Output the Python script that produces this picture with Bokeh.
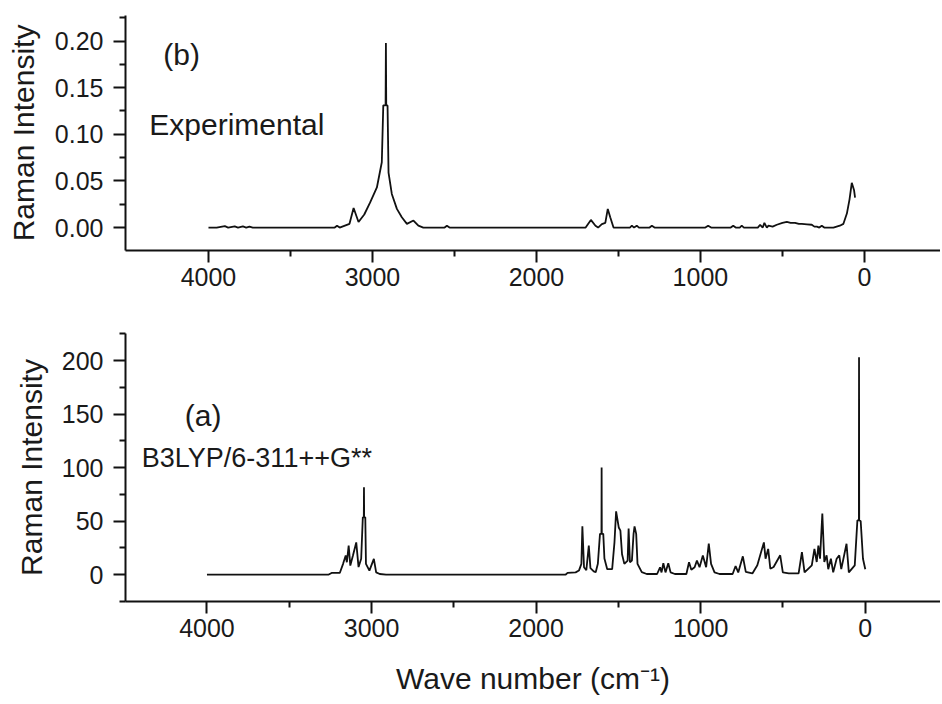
from bokeh.plotting import figure
from bokeh.layouts import column
from bokeh.models import FixedTicker, NumeralTickFormatter, Label, Range1d
from bokeh.embed import file_html
from bokeh.resources import INLINE

# ---- Experimental Raman spectrum (panel b) ----
exp_wavenumber = [4000, 3950, 3900, 3880, 3840, 3820, 3790, 3770, 3750, 3730,
                  3230, 3216, 3200, 3140, 3115, 3085, 3050, 3014, 2973, 2943,
                  2934, 2920, 2918, 2916, 2908, 2902, 2882, 2851, 2821, 2790,
                  2750, 2720, 2690, 2560, 2546, 2530, 1700, 1668, 1640, 1624,
                  1601, 1580, 1565, 1550, 1530, 1430, 1418, 1405, 1388, 1375,
                  1310, 1296, 1280, 970, 953, 935, 815, 800, 785, 760,
                  748, 735, 650, 636, 620, 610, 595, 585, 560, 534,
                  500, 473, 450, 423, 400, 382, 350, 321, 305, 290,
                  275, 260, 245, 189, 150, 128, 107, 91, 77, 70,
                  63, 57]
exp_intensity = [0, 0, 0.0015, 0, 0.0012, 0, 0.0012, 0, 0.001, 0,
                 0, 0.002, 0, 0.004, 0.021, 0.006, 0.014, 0.027, 0.043, 0.070,
                 0.131, 0.131, 0.198, 0.131, 0.131, 0.059, 0.036, 0.020, 0.011, 0.004,
                 0.0075, 0.002, 0, 0, 0.002, 0, 0, 0.0082, 0.002, 0,
                 0.0037, 0.005, 0.020, 0.011, 0, 0, 0.002, 0, 0.002, 0,
                 0, 0.002, 0, 0, 0.002, 0, 0, 0.002, 0, 0,
                 0.002, 0, 0, 0.003, 0, 0.005, 0, 0.002, 0.001, 0.003,
                 0.005, 0.006, 0.005, 0.005, 0.004, 0.004, 0.0035, 0.003, 0.001, 0.001,
                 0, 0.002, 0, 0, 0.002, 0.004, 0.015, 0.030, 0.048, 0.044,
                 0.040, 0.032]

# ---- Calculated Raman spectrum, B3LYP/6-311++G** (panel a) ----
calc_wavenumber = [4000, 3260, 3243, 3193, 3173, 3157, 3150, 3139, 3129, 3113,
                   3093, 3079, 3063, 3053, 3047, 3046, 3045, 3038, 3034, 3013,
                   2986, 2972, 2950, 2912, 1820, 1809, 1760, 1740, 1725, 1719,
                   1709, 1695, 1680, 1670, 1650, 1638, 1625, 1612, 1603, 1602,
                   1601, 1592, 1585, 1568, 1538, 1524, 1514, 1498, 1488, 1478,
                   1464, 1444, 1438, 1430, 1418, 1408, 1402, 1392, 1384, 1358,
                   1328, 1265, 1247, 1238, 1227, 1214, 1197, 1183, 1157, 1087,
                   1071, 1057, 1037, 1023, 1007, 987, 967, 951, 937, 916,
                   886, 806, 788, 772, 744, 726, 686, 656, 636, 616,
                   606, 590, 577, 557, 517, 501, 465, 405, 385, 369,
                   325, 309, 295, 285, 275, 261, 249, 235, 225, 209,
                   195, 174, 158, 146, 114, 100, 64, 48, 39, 38,
                   37, 28, 14, 0]
calc_intensity = [0, 0, 1.5, 1.5, 10, 17.8, 11.5, 27, 8.4, 17.8,
                  30, 7, 14.7, 53.5, 53.5, 81.5, 53.5, 53.5, 10, 3.7,
                  14.7, 2, 0.5, 0, 0, 1.5, 2, 3.7, 10, 45,
                  6.8, 4, 27, 6, 3, 2.2, 10, 38, 38, 100,
                  38, 38, 15, 5, 5, 30, 59, 44, 41, 19,
                  10, 13, 43, 11.5, 13, 38, 45, 38, 10, 2.2,
                  0.5, 0.5, 6.8, 2, 10.6, 2, 10.6, 2, 0.5, 0.5,
                  11.5, 4.4, 6.8, 13, 6.8, 17.8, 6.8, 29, 10, 2,
                  0.5, 0.5, 8, 2, 17, 2.5, 1, 8.6, 19.5, 30,
                  14.8, 24, 5.4, 7, 18, 2, 1, 1, 21, 2,
                  8.6, 24, 11.7, 27, 14.8, 57, 11.7, 18, 5, 14.8,
                  2, 14.8, 18, 5, 28.8, 2, 8.6, 50.6, 50.6, 203,
                  50.6, 50, 14.8, 5]

x_ticks = [4000, 3000, 2000, 1000, 0]
x_minor_ticks = [3500, 2500, 1500, 500]
exp_y_ticks = [0.0, 0.05, 0.10, 0.15, 0.20]
exp_y_minor = [-0.025, 0.025, 0.075, 0.125, 0.175, 0.225]
calc_y_ticks = [0, 50, 100, 150, 200]
calc_y_minor = [-25, 25, 75, 125, 175, 225]

FONT = "Liberation Sans"
TXT = "#1a1a1a"
INK = "#111111"


def style(p, label_standoff):
    p.outline_line_color = None
    p.grid.visible = False
    p.background_fill_color = "white"
    p.border_fill_color = "white"
    for ax in (p.xaxis[0], p.yaxis[0]):
        ax.axis_line_width = 2
        ax.axis_line_color = INK
        ax.major_tick_line_width = 2
        ax.major_tick_line_color = INK
        ax.minor_tick_line_width = 2
        ax.minor_tick_line_color = INK
        ax.major_tick_in = 0
        ax.major_tick_out = 12
        ax.minor_tick_in = 0
        ax.minor_tick_out = 6
        ax.major_label_text_font = FONT
        ax.major_label_text_font_size = "25px"
        ax.major_label_text_color = TXT
        ax.axis_label_text_font = FONT
        ax.axis_label_text_font_style = "normal"
        ax.axis_label_text_color = TXT
    p.xaxis[0].ticker = FixedTicker(ticks=x_ticks, minor_ticks=x_minor_ticks)
    p.xaxis[0].major_label_standoff = 5
    p.yaxis[0].major_label_standoff = 10
    p.yaxis[0].axis_label = "Raman Intensity"
    p.yaxis[0].axis_label_text_font_size = "30px"
    p.yaxis[0].axis_label_standoff = label_standoff


# ---- top panel (b) ----
p1 = figure(width=940, height=300, output_backend="svg", toolbar_location=None,
            x_range=Range1d(4506, -464), y_range=Range1d(-0.0246, 0.2274),
            min_border_left=125, min_border_right=0, min_border_top=15,
            min_border_bottom=50)
style(p1, 12)
p1.yaxis[0].ticker = FixedTicker(ticks=exp_y_ticks, minor_ticks=exp_y_minor)
p1.yaxis[0].formatter = NumeralTickFormatter(format="0.00")
p1.line(exp_wavenumber, exp_intensity, line_color=INK, line_width=1.8)
p1.add_layout(Label(x=4276, y=0.186, text="(b)", text_font=FONT,
                    text_font_size="30px", text_color=TXT,
                    text_baseline="alphabetic"))
p1.add_layout(Label(x=4361, y=0.110, text="Experimental", text_font=FONT,
                    text_font_size="30px", text_color=TXT,
                    text_baseline="alphabetic"))

# ---- bottom panel (a) ----
p2 = figure(width=940, height=402, output_backend="svg", toolbar_location=None,
            x_range=Range1d(4495, -457), y_range=Range1d(-25.2, 225.3),
            min_border_left=117, min_border_right=0, min_border_top=33,
            min_border_bottom=101)
style(p2, 11)
p2.yaxis[0].ticker = FixedTicker(ticks=calc_y_ticks, minor_ticks=calc_y_minor)
p2.xaxis[0].axis_label = "Wave number (cm\u207b\u00b9)"
p2.xaxis[0].axis_label_text_font_size = "30px"
p2.xaxis[0].axis_label_standoff = 22
p2.line(calc_wavenumber, calc_intensity, line_color=INK, line_width=1.8)
p2.add_layout(Label(x=4135, y=148.6, text="(a)", text_font=FONT,
                    text_font_size="30px", text_color=TXT,
                    text_baseline="alphabetic"))
p2.add_layout(Label(x=4396, y=109, text="B3LYP/6-311++G**", text_font=FONT,
                    text_font_size="27px", text_color=TXT,
                    text_baseline="alphabetic"))

layout = column(p1, p2)
open("out.html", "w").write(file_html(layout, INLINE))
